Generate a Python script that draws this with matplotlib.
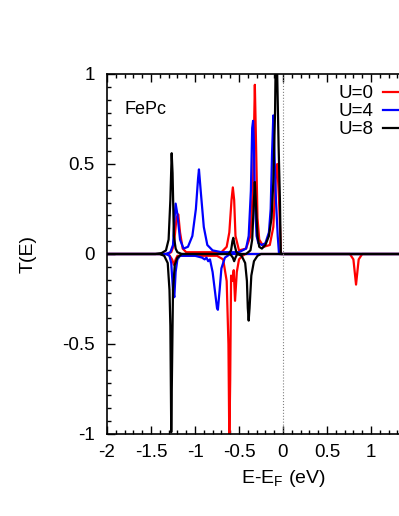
import matplotlib
matplotlib.use('Agg')
import matplotlib.pyplot as plt
from matplotlib.ticker import MultipleLocator, AutoMinorLocator

plt.rcParams['font.family'] = ['Liberation Sans', 'DejaVu Sans']

# U=0 (red)
e_u0_up = [-2.0, -1.32, -1.27, -1.24, -1.21, -1.19, -1.17, -1.14, -1.1, -0.7, -0.64, -0.61,
           -0.585, -0.57, -0.555, -0.54, -0.5, -0.42, -0.37, -0.34, -0.32, -0.31, -0.29, -0.27,
           -0.22, -0.15, -0.11, -0.08, -0.065, -0.045, -0.03, -0.025, 2.0]
t_u0_up = [0.0, 0.0, 0.01, 0.05, 0.2, 0.22, 0.12, 0.03, 0.01, 0.01, 0.04, 0.12,
           0.3, 0.37, 0.3, 0.1, 0.02, 0.03, 0.1, 0.4, 0.94, 0.7, 0.2, 0.08,
           0.04, 0.05, 0.15, 0.45, 0.5, 0.3, 0.1, 0.0, 0.0]
e_u0_dn = [-2.0, -1.3, -1.26, -1.24, -1.22, -1.2, -0.75, -0.68, -0.64, -0.62, -0.61, -0.6,
           -0.59, -0.575, -0.56, -0.545, -0.525, -0.5, -0.46, -0.43, 0.76, 0.8, 0.83, 0.86, 0.9, 2.0]
t_u0_dn = [0.0, 0.0, -0.03, -0.06, -0.03, -0.01, -0.01, -0.03, -0.15, -0.5, -1.05, -0.7,
           -0.12, -0.15, -0.09, -0.26, -0.1, -0.03, -0.01, 0.0, 0.0, -0.03, -0.17, -0.03, 0.0, 0.0]

# U=4 (blue)
e_u4_up = [-2.0, -1.33, -1.28, -1.25, -1.235, -1.22, -1.2, -1.17, -1.13, -1.08, -1.03, -0.99,
           -0.965, -0.955, -0.935, -0.9, -0.86, -0.8, -0.7, -0.5, -0.42, -0.39, -0.365, -0.35,
           -0.34, -0.33, -0.32, -0.3, -0.28, -0.24, -0.2, -0.16, -0.14, -0.125, -0.11, -0.1,
           -0.08, -0.06, -0.045, 2.0]
t_u4_up = [0.0, 0.0, 0.01, 0.05, 0.18, 0.28, 0.22, 0.08, 0.03, 0.04, 0.1, 0.25,
           0.42, 0.47, 0.35, 0.15, 0.05, 0.02, 0.01, 0.01, 0.03, 0.1, 0.35, 0.7,
           0.74, 0.6, 0.3, 0.1, 0.06, 0.05, 0.06, 0.12, 0.25, 0.55, 0.77, 0.6,
           0.3, 0.1, 0.0, 0.0]
e_u4_dn = [-2.0, -1.33, -1.29, -1.27, -1.25, -1.235, -1.22, -1.2, -1.17, -1.0, -0.92, -0.89,
           -0.87, -0.85, -0.83, -0.8, -0.77, -0.75, -0.74, -0.72, -0.7, -0.66, -0.6, 2.0]
t_u4_dn = [0.0, 0.0, -0.01, -0.05, -0.2, -0.24, -0.1, -0.03, -0.01, -0.01, -0.02, -0.03,
           -0.02, -0.04, -0.03, -0.1, -0.22, -0.3, -0.31, -0.2, -0.08, -0.02, 0.0, 0.0]

# U=8 (black)
e_u8_up = [-2.0, -1.45, -1.38, -1.33, -1.3, -1.28, -1.265, -1.255, -1.24, -1.22, -1.2, -1.15,
           -0.62, -0.59, -0.575, -0.565, -0.55, -0.53, -0.5, -0.42, -0.37, -0.35, -0.33, -0.32,
           -0.31, -0.29, -0.27, -0.24, -0.2, -0.16, -0.13, -0.11, -0.1, -0.09, -0.08, -0.07,
           -0.05, -0.035, -0.03, -0.025, 2.0]
t_u8_up = [0.0, 0.0, 0.005, 0.02, 0.08, 0.3, 0.56, 0.45, 0.1, 0.03, 0.01, 0.0,
           0.0, 0.02, 0.07, 0.09, 0.05, 0.01, 0.0, 0.0, 0.02, 0.08, 0.3, 0.4,
           0.3, 0.1, 0.04, 0.03, 0.05, 0.1, 0.2, 0.4, 0.6, 0.8, 1.2, 1.1,
           0.6, 0.3, 0.15, 0.0, 0.0]
e_u8_dn = [-2.0, -1.4, -1.35, -1.31, -1.29, -1.28, -1.27, -1.26, -1.25, -1.23, -1.2, -1.15,
           -0.6, -0.57, -0.555, -0.54, -0.52, -0.47, -0.43, -0.41, -0.4, -0.39, -0.38, -0.36,
           -0.33, -0.29, -0.25, 2.0]
t_u8_dn = [0.0, 0.0, -0.01, -0.05, -0.2, -0.4, -0.99, -0.6, -0.2, -0.06, -0.02, 0.0,
           0.0, -0.02, -0.04, -0.02, 0.0, -0.01, -0.05, -0.15, -0.3, -0.37, -0.3, -0.12,
           -0.04, -0.01, 0.0, 0.0]

xticks = [-2, -1.5, -1, -0.5, 0, 0.5, 1, 1.5, 2]
xticklabels = ['-2', '-1.5', '-1', '-0.5', '0', '0.5', '1', '', '']
yticks = [-1, -0.5, 0, 0.5, 1]
yticklabels = ['-1', '-0.5', '0', '0.5', '1']

fig = plt.figure(figsize=(3.99, 5.16), dpi=100)
ax = fig.add_axes([107/399, 82/516, 352/399, 360/516])

lw = 1.6
ax.plot(e_u0_up, t_u0_up, color='red', lw=lw, label='U=0')
ax.plot(e_u0_dn, t_u0_dn, color='red', lw=lw)
ax.plot(e_u4_up, t_u4_up, color='blue', lw=lw, label='U=4')
ax.plot(e_u4_dn, t_u4_dn, color='blue', lw=lw)
ax.plot(e_u8_up, t_u8_up, color='black', lw=lw, label='U=8')
ax.plot(e_u8_dn, t_u8_dn, color='black', lw=lw)
ax.axvline(0, color='gray', lw=0.8, ls=':')

ax.set_xlim(-2, 2)
ax.set_ylim(-1, 1)
ax.set_xticks(xticks)
ax.set_xticklabels(xticklabels)
ax.set_yticks(yticks)
ax.set_yticklabels(yticklabels)
ax.xaxis.set_minor_locator(AutoMinorLocator(5))
ax.yaxis.set_minor_locator(AutoMinorLocator(7))
ax.tick_params(which='both', direction='in', top=True, right=True, labelsize=13.5)
ax.tick_params(axis='x', pad=7)
ax.tick_params(axis='y', pad=9)
ax.tick_params(which='major', length=6, width=1)
ax.tick_params(which='minor', length=3, width=1)
for s in ax.spines.values():
    s.set_linewidth(1.2)

ax.set_xlabel('E-E$_\\mathregular{F}$ (eV)', fontsize=14, labelpad=5)
ax.set_ylabel('T(E)', fontsize=14, labelpad=18)
fig.text(124/399, 1 - 110/516, 'FePc', fontsize=13, va='center', ha='left')

leg = ax.legend(loc='upper left', bbox_to_anchor=(0.625, 1.0), frameon=False,
                fontsize=13.5, markerfirst=False, handlelength=2.6, labelspacing=0.05,
                handletextpad=0.5, borderaxespad=0.2)

fig.savefig('out.png', dpi=100)
